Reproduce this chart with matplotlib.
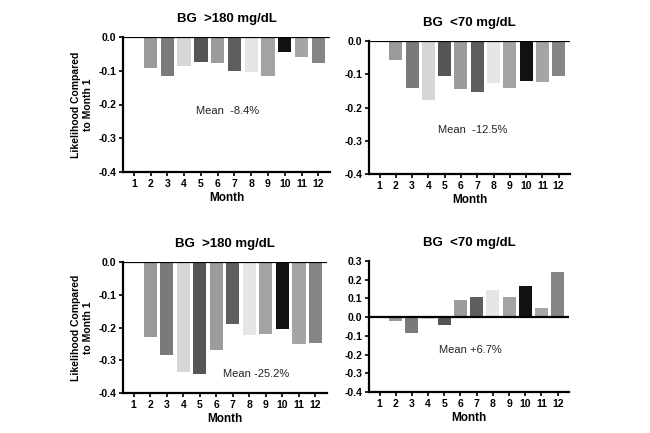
import matplotlib
matplotlib.use('Agg')
import matplotlib.pyplot as plt

plt.rcParams['font.family'] = ['Liberation Sans', 'DejaVu Sans']

months = list(range(1, 13))
bar_months = months[1:]
bar_colors = ['#9a9a9c', '#7a7a7a', '#d6d6d6', '#555555', '#9c9c9e', '#5e5e5e',
              '#e6e6e6', '#a3a3a5', '#111111', '#a5a5a7', '#858585']

# month 2..12, likelihood compared to month 1
hyper_1 = [-0.093, -0.116, -0.085, -0.073, -0.077, -0.101, -0.103, -0.117, -0.043, -0.059, -0.077]
hypo_1 = [-0.058, -0.141, -0.177, -0.104, -0.145, -0.152, -0.125, -0.141, -0.121, -0.122, -0.105]
hyper_2 = [-0.228, -0.285, -0.337, -0.342, -0.269, -0.188, -0.222, -0.220, -0.204, -0.251, -0.248]
hypo_2 = [-0.023, -0.085, -0.011, -0.041, 0.094, 0.108, 0.144, 0.107, 0.167, 0.048, 0.242]

titles = ['BG  >180 mg/dL', 'BG  <70 mg/dL', 'BG  >180 mg/dL', 'BG  <70 mg/dL']
means = ['Mean  -8.4%', 'Mean  -12.5%', 'Mean -25.2%', 'Mean +6.7%']
mean_pos = [(6.6, -0.218), (6.7, -0.267), (8.4, -0.341), (6.6, -0.174)]
ylims = [(-0.4, 0.0), (-0.4, 0.0), (-0.4, 0.0), (-0.4, 0.3)]
series = [hyper_1, hypo_1, hyper_2, hypo_2]

fig = plt.figure(figsize=(6.5, 4.33), dpi=100)
# axes boxes in pixels: left, top, right, bottom
boxes = [(123, 37, 330, 172), (369, 41, 570, 174), (123, 262, 327, 393), (369, 261, 569, 392)]

for i in range(4):
    l, t, r, b = boxes[i]
    ax = fig.add_axes([l / 650, 1 - b / 433, (r - l) / 650, (b - t) / 433])
    ax.bar(bar_months, series[i], width=0.8, color=bar_colors)
    ax.axhline(0, color='black', lw=1.6, zorder=3)
    ax.set_xlim(0.35, 12.7)
    ax.set_ylim(*ylims[i])
    lo, hi = ylims[i]
    ticks = [round(lo + 0.1 * k, 1) for k in range(int(round((hi - lo) / 0.1)) + 1)]
    ax.set_yticks(ticks)
    ax.set_yticklabels(['%.1f' % v for v in ticks])
    ax.set_xticks(months)
    for s in ['top', 'right']:
        ax.spines[s].set_visible(False)
    for s in ['left', 'bottom']:
        ax.spines[s].set_linewidth(1.6)
    ax.tick_params(width=1.2, length=3, labelsize=7.5, pad=2)
    for lab in ax.get_xticklabels() + ax.get_yticklabels():
        lab.set_fontweight('bold')
    ax.set_xlabel('Month', fontsize=8.5, fontweight='bold', labelpad=2)
    ax.set_title(titles[i], fontsize=9.5, fontweight='bold', pad=11)
    ax.text(mean_pos[i][0], mean_pos[i][1], means[i], fontsize=8, ha='center', va='center', color='#222222')
    if i % 2 == 0:
        ax.set_ylabel('Likelihood Compared\nto Month 1', fontsize=7.5, fontweight='bold', labelpad=4)

fig.savefig('out.png', dpi=100)
